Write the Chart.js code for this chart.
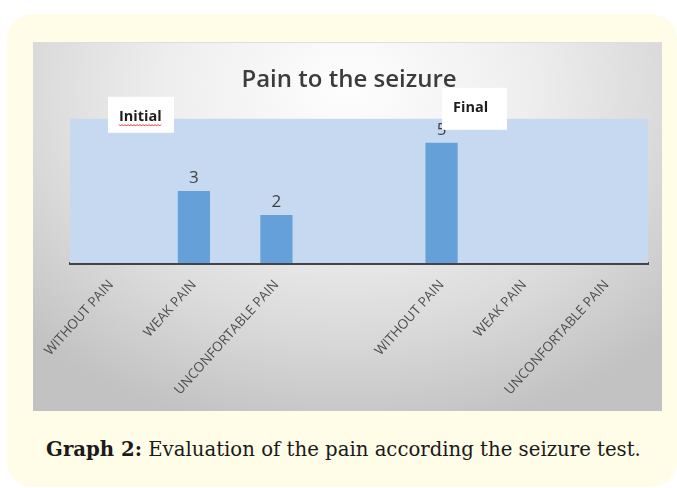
<!DOCTYPE html>
<html><head><meta charset="utf-8">
<script src="https://cdn.jsdelivr.net/npm/chart.js@4.4.0/dist/chart.umd.min.js"></script>
<style>
html,body{margin:0;padding:0;background:#fff;width:677px;height:488px;overflow:hidden}
#card{position:absolute;left:7px;top:14px;width:670px;height:473px;background:#fffce8;border-radius:26px}
#panel{position:absolute;left:33px;top:42px;width:629px;height:369px;
 background:radial-gradient(ellipse 72% 95% at 50% 12%, #fefefe 0%, #eeeeee 40%, #dadada 70%, #c2c2c2 100%);
 border-top:1px solid #dedede;box-sizing:border-box}
#panel canvas{position:absolute;left:0;top:-1px}
#cap{position:absolute;left:25px;width:637px;top:438px;text-align:center;font-family:"DejaVu Serif",serif;font-size:19.7px;color:#1a1a1a;white-space:nowrap}
</style></head>
<body>
<div id="card"></div>
<div id="panel"><canvas id="c" width="629" height="369"></canvas></div>
<div id="cap"><b>Graph 2:</b> Evaluation of the pain according the seizure test.</div>
<script>
const chartTitle = 'Pain to the seizure';
const categories = ['WITHOUT PAIN', 'WEAK PAIN', 'UNCONFORTABLE PAIN', '', 'WITHOUT PAIN', 'WEAK PAIN', 'UNCONFORTABLE PAIN'];
const values = [0, 3, 2, null, 5, 0, 0];
const groupLabels = ['Initial', 'Final'];
const yMin = 0, yMax = 6;

const areaBg = {
  id: 'areaBg',
  beforeDatasetsDraw(chart) {
    const {ctx, chartArea: a} = chart;
    ctx.save();
    ctx.fillStyle = '#c6d9f1';
    ctx.fillRect(a.left, a.top, a.right - a.left, a.bottom - a.top);
    ctx.restore();
  }
};

const valueLabels = {
  id: 'valueLabels',
  afterDatasetsDraw(chart) {
    const {ctx} = chart;
    const meta = chart.getDatasetMeta(0);
    ctx.save();
    ctx.font = '17px "Open Sans"';
    ctx.fillStyle = '#404040';
    ctx.textAlign = 'center';
    ctx.textBaseline = 'alphabetic';
    meta.data.forEach((bar, i) => {
      const v = values[i];
      if (v) ctx.fillText(String(v), bar.x, bar.y - 8);
    });
    ctx.restore();
  }
};

const groupBoxes = {
  id: 'groupBoxes',
  afterDraw(chart) {
    const {ctx, chartArea: a} = chart;
    const boxes = [
      {x: a.left + 38, y: a.top - 22, w: 66, h: 36, tx: a.left + 49, ty: a.top + 2, squiggle: true},
      {x: a.left + 372, y: a.top - 31, w: 65, h: 42, tx: a.left + 383, ty: a.top - 7, squiggle: false}
    ];
    ctx.save();
    boxes.forEach((b, i) => {
      ctx.fillStyle = '#ffffff';
      ctx.fillRect(b.x, b.y, b.w, b.h);
      ctx.font = 'bold 14.5px "Open Sans"';
      ctx.fillStyle = '#1e1e1e';
      ctx.textAlign = 'left';
      ctx.textBaseline = 'alphabetic';
      ctx.fillText(groupLabels[i], b.tx, b.ty);
      if (b.squiggle) {
        const w = ctx.measureText(groupLabels[i]).width;
        ctx.strokeStyle = '#e03030';
        ctx.lineWidth = 1;
        ctx.beginPath();
        for (let x = 0; x <= w; x += 1.5) {
          const yy = b.ty + 4 + ((Math.round(x / 1.5) % 2) ? 1.2 : -0.3);
          if (x === 0) ctx.moveTo(b.tx + x, yy); else ctx.lineTo(b.tx + x, yy);
        }
        ctx.stroke();
      }
    });
    ctx.restore();
  }
};

new Chart(document.getElementById('c'), {
  type: 'bar',
  data: {
    labels: categories,
    datasets: [{
      data: values,
      backgroundColor: '#65a0d8',
      borderWidth: 0,
      barPercentage: 0.39,
      categoryPercentage: 1
    }]
  },
  options: {
    responsive: false,
    animation: false,
    devicePixelRatio: 1,
    layout: {padding: {top: 15, left: 17, right: 14, bottom: 0}},
    plugins: {
      legend: {display: false},
      tooltip: {enabled: false},
      title: {
        display: true,
        text: chartTitle,
        color: '#3c3c3c',
        font: {family: 'Open Sans', size: 24, weight: '600', lineHeight: 1.2},
        padding: {top: 9, bottom: 24}
      }
    },
    scales: {
      x: {
        grid: {display: false, drawTicks: false},
        border: {display: true, color: '#444444', width: 3},
        ticks: {
          autoSkip: false,
          minRotation: 48,
          maxRotation: 48,
          padding: 14,
          color: '#4d4d4d',
          font: {family: 'Open Sans', size: 13.5}
        },
        afterFit(s) { s.height = 148; s.paddingLeft = 0; s.paddingRight = 0; }
      },
      y: {
        display: true,
        min: yMin,
        max: yMax,
        grid: {display: false, drawTicks: false},
        border: {display: false},
        ticks: {display: false},
        afterFit(s) { s.width = 20; }
      }
    }
  },
  plugins: [areaBg, valueLabels, groupBoxes]
});
</script>
</body></html>
